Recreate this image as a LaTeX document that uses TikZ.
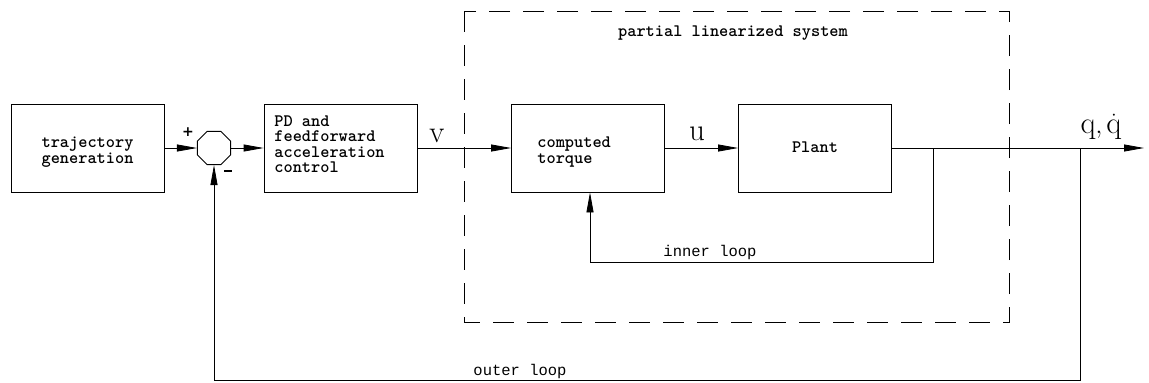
\documentclass[tikz,border=0pt]{standalone}
\usepackage{fontspec}
\usetikzlibrary{arrows.meta,shapes.geometric}
\newfontfamily\monofont{Liberation Mono}
\newfontfamily\signfont{DejaVu Sans}
\begin{document}
\begin{tikzpicture}[x=1pt,y=-1pt,
  line width=0.8pt,
  blk/.style={draw, rectangle, minimum width=153pt, minimum height=88pt, inner sep=0pt},
  lbl/.style={font=\ttfamily\bfseries\fontsize{17.5}{15.5}\selectfont, align=left, inner sep=0pt},
  loop/.style={font=\monofont\fontsize{15.5}{16}\selectfont, inner sep=0pt},
  sig/.style={font=\fontsize{31}{31}\selectfont, inner sep=0pt},
  sgn/.style={font=\signfont\bfseries\fontsize{14}{14}\selectfont, inner sep=0pt},
  arr/.style={-{Triangle[length=20pt,width=7pt]}},
  frame/.style={draw, dash pattern=on 21pt off 13pt, line width=0.8pt}]
\useasboundingbox (0,0) rectangle (1149,383);

% blocks of the forward path
\node[blk] (traj) at (87.5,148) {};
\node[lbl] (trajtxt) at (87.5,152) {trajectory\\generation};
\node[draw, regular polygon, regular polygon sides=8, minimum size=36pt, inner sep=0pt] (sum) at (214,148) {};
\node[blk] (pd) at (340.5,148) {};
\node[lbl, anchor=north west] (pdtxt) at (274,115) {PD and\\feedforward\\acceleration\\control};
\node[blk] (ct) at (588,148) {};
\node[lbl, anchor=west] (cttxt) at (537,152) {computed\\torque};
\node[blk] (plant) at (815,148) {};
\node[lbl] (planttxt) at (815,147) {Plant};

% partially linearized subsystem
\coordinate (fa) at (464,11);
\coordinate (fb) at (1009,322);
\draw[frame] (fa) rectangle (fb);
\node[lbl] (title) at (733,33) {partial linearized system};

% signals
\draw[arr] (traj.east) -- (sum.west);
\draw[arr] (sum.east) -- (pd.west);
\draw[arr] (pd.east) -- (ct.west);
\draw[arr] (ct.east) -- (plant.west);
\coordinate (out) at (1144,148);
\draw[arr] (plant.east) -- (out);

\node[sig] (v) at (437,136) {$\mathrm{v}$};
\node[sig] (u) at (697,134) {$\mathrm{u}$};
\node[sig] (q) at (1101,127) {$\mathrm{q},\dot{\mathrm{q}}$};
\node[sgn] (plus) at (188,132) {+};
\node[inner sep=0pt, fill, minimum width=8pt, minimum height=1.8pt] (minus) at (228,171) {};

% inner feedback loop
\coordinate (ia) at (933,148);
\coordinate (ib) at (933,262);
\coordinate (ic) at (590,262);
\draw[arr] (ia) -- (ib) -- (ic) -- (ic |- ct.south);
\node[loop] (inner) at (710,252) {inner loop};

% outer feedback loop
\coordinate (oa) at (1080,148);
\coordinate (ob) at (1080,380);
\coordinate (oc) at (214,380);
\draw[arr] (oa) -- (ob) -- (oc) -- (sum.south);
\node[loop] (outer) at (520,371) {outer loop};
\end{tikzpicture}
\end{document}
